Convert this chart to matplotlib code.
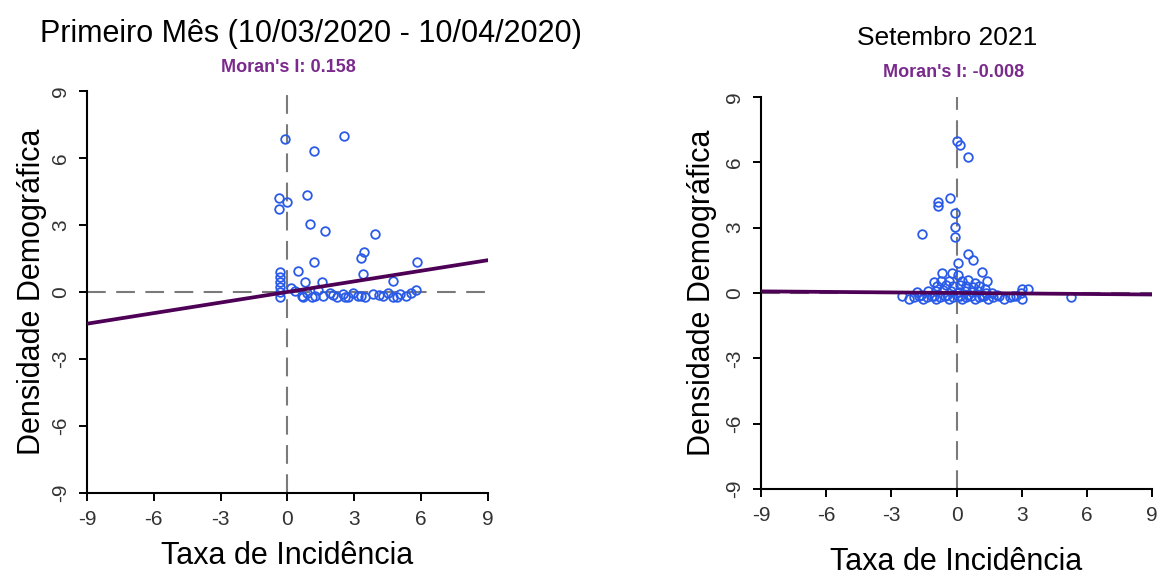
import matplotlib
matplotlib.use("Agg")
import matplotlib.pyplot as plt

plt.rcParams['font.family'] = ['Liberation Sans', 'DejaVu Sans']

# first month (10/03/2020 - 10/04/2020)
left_x = [-0.11, 2.55, 1.2, -0.37, 0.0, -0.37, 0.86, 1.0, 1.67, 3.92,
          3.45, 3.28, 1.2, 5.81, 0.46, 3.37, 4.72, 0.78, 1.53, 0.17,
          -0.35, -0.35, -0.35, -0.35, -0.35, -0.35,
          0.34, 0.64, 0.86, 1.09, 1.38, 1.61, 1.91, 2.21, 2.5, 2.73,
          2.95, 3.18, 3.48, 3.85, 4.3, 4.52, 4.75, 5.04, 5.34, 5.56, 5.79,
          0.7, 1.25, 2.05, 2.6, 3.3, 4.1, 4.9]
left_y = [6.85, 7.0, 6.3, 4.2, 4.02, 3.72, 4.35, 3.05, 2.75, 2.58,
          1.78, 1.54, 1.36, 1.36, 0.96, 0.81, 0.51, 0.43, 0.43, 0.19,
          0.91, 0.69, 0.46, 0.24, 0.01, -0.24,
          0.05, -0.2, -0.06, -0.24, 0.09, -0.2, -0.06, -0.24, -0.1, -0.24,
          -0.06, -0.2, -0.24, -0.1, -0.2, -0.06, -0.24, -0.1, -0.2, -0.06, 0.09,
          -0.22, -0.2, -0.15, -0.22, -0.18, -0.12, -0.22]

# setembro 2021
right_x = [0.0, 0.18, 0.51, -0.31, -0.84, -0.84, -0.06, -0.06, -0.06, -1.6,
           0.51, 0.77, 0.05, 1.15, 1.41, -0.65, -0.2, 0.08,
           -1.05, -0.7, -0.35, 0.25, 0.55, 0.85, -0.9, -0.5, -0.15, 0.15,
           0.45, 0.75, 1.05, 1.3,
           -1.8, -1.3, -0.95, -0.6, -0.25, 0.1, 0.4, 0.7, 1.0, 1.35, 1.65,
           3.0, 3.27, 2.95,
           -2.5, -2.2, -1.95, -1.75, -1.55, -1.35, -1.15, -0.95, -0.75, -0.55,
           -0.35, -0.15, 0.05, 0.25, 0.45, 0.65, 0.85, 1.05, 1.25, 1.45,
           1.7, 1.95, 2.2, 2.45, 2.75, 3.0, 5.27,
           -1.65, -1.05, -0.45, 0.15, 0.55, 1.15, 1.85, 2.6]
right_y = [6.99, 6.8, 6.25, 4.34, 4.19, 3.99, 3.68, 3.04, 2.55, 2.72,
           1.79, 1.51, 1.36, 0.96, 0.56, 0.9, 0.9, 0.83,
           0.5, 0.55, 0.55, 0.55, 0.6, 0.45, 0.3, 0.35, 0.3, 0.35,
           0.3, 0.25, 0.3, 0.2,
           0.05, 0.1, 0.1, 0.12, 0.08, 0.05, 0.1, 0.05, 0.08, 0.0, 0.02,
           0.2, 0.2, 0.0,
           -0.15, -0.28, -0.2, -0.15, -0.28, -0.2, -0.15, -0.28, -0.2, -0.15,
           -0.28, -0.2, -0.15, -0.28, -0.2, -0.15, -0.28, -0.2, -0.15, -0.28,
           -0.2, -0.15, -0.28, -0.2, -0.15, -0.28, -0.2,
           -0.1, -0.12, -0.1, -0.12, -0.1, -0.12, -0.1, -0.12]

moran_left = 0.158
moran_right = -0.008
ticks = [-9, -6, -3, 0, 3, 6, 9]

fig = plt.figure(figsize=(11.59, 5.81), dpi=100)
ax1 = fig.add_axes([0.075, 0.1515, 0.346, 0.692])
ax2 = fig.add_axes([0.6566, 0.1583, 0.3374, 0.675])


def moran_panel(ax, xs, ys, slope, ylabpad, xlabpad):
    ax.set_xlim(-9, 9)
    ax.set_ylim(-9, 9)
    ax.axhline(0, color="#7a7a7a", lw=1.5, dashes=(9, 5), zorder=1)
    ax.axvline(0, color="#7a7a7a", lw=1.5, dashes=(9, 5), zorder=1)
    ax.plot(xs, ys, "o", mfc="none", mec="#2a5be8", ms=6.2, mew=1.3,
            zorder=3, clip_on=False)
    ax.plot([-9, 9], [-9 * slope, 9 * slope], color="#4e0056", lw=2.7,
            zorder=4)
    for s in ["top", "right"]:
        ax.spines[s].set_visible(False)
    for s in ["left", "bottom"]:
        ax.spines[s].set_linewidth(1.5)
    ax.set_xticks(ticks)
    ax.set_yticks(ticks)
    ax.set_xticklabels([str(t) for t in ticks])
    ax.set_yticklabels([str(t) for t in ticks], rotation=90, va="center")
    ax.tick_params(length=6, width=1.4, labelsize=15, labelcolor="#333333",
                   pad=6)
    ax.set_xlabel("Taxa de Incidência", fontsize=22, labelpad=xlabpad)
    ax.set_ylabel("Densidade Demográfica", fontsize=22, labelpad=ylabpad)


moran_panel(ax1, left_x, left_y, moran_left, 3, 9)
moran_panel(ax2, right_x, right_y, moran_right, 6, 16)

fig.text(0.268, 0.942, "Primeiro Mês (10/03/2020 - 10/04/2020)", fontsize=22,
         ha="center", va="center")
fig.text(0.249, 0.884, "Moran's I: 0.158", fontsize=13, ha="center",
         va="center", color="#7a2a8c", fontweight="bold")
fig.text(0.817, 0.935, "Setembro 2021", fontsize=19, ha="center",
         va="center")
fig.text(0.823, 0.875, "Moran's I: -0.008", fontsize=13, ha="center",
         va="center", color="#7a2a8c", fontweight="bold")

fig.savefig("out.png", dpi=100)
